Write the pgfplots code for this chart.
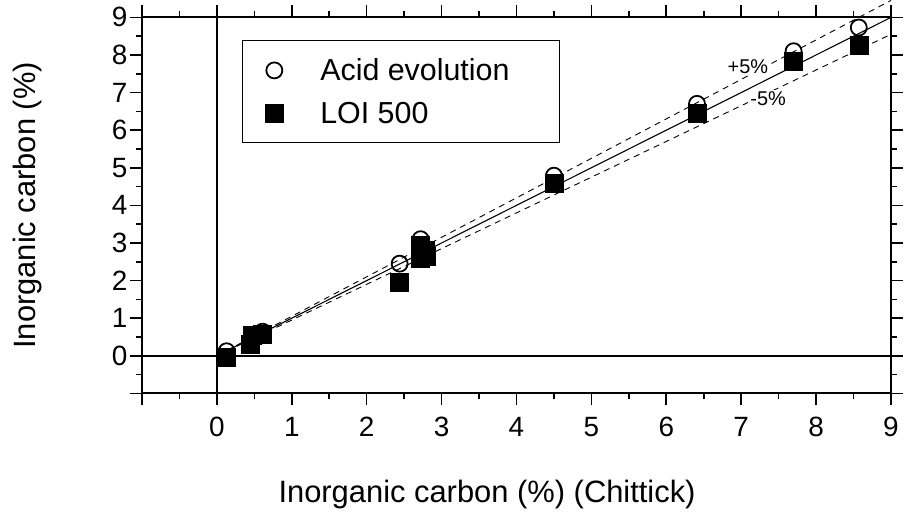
\documentclass[border=0pt]{standalone}
\usepackage{fontspec}
\setmainfont{Liberation Sans}
\usepackage{pgfplots}
\pgfplotsset{compat=1.18}

\begin{document}
\begin{tikzpicture}
\begin{axis}[
    scale only axis,
    width=749bp, height=376bp,
    xmin=-1, xmax=9, ymin=-1, ymax=9,
    xtick={-1,0,...,9}, xticklabels={,0,1,2,3,4,5,6,7,8,9},
    ytick={-1,0,...,9}, yticklabels={,0,1,2,3,4,5,6,7,8,9},
    minor tick num=1,
    tick align=outside,
    major tick length=12bp, minor tick length=6bp,
    every tick/.style={black, line width=1.6pt},
    axis line style={line width=2.2pt},
    tick label style={font=\fontsize{28}{32}\selectfont},
    /pgf/number format/assume math mode=true,
    xticklabel style={yshift=-8bp},
    yticklabel style={xshift=1bp},
    label style={font=\fontsize{31}{36}\selectfont},
    xlabel={Inorganic carbon (\%) (Chittick)},
    ylabel={Inorganic carbon (\%)},
    xlabel style={at={(rel axis cs:0.1776,-0.2686)}, anchor=west},
    ylabel style={at={(rel axis cs:-0.1535,0.5)}, anchor=center},
    clip=false,
    legend cell align=left,
    legend style={at={(rel axis cs:0.1335,0.939)}, anchor=north west,
        draw=black, line width=0.7pt, inner xsep=23bp, inner ysep=16bp,
        row sep=16bp, column sep=35bp, font=\fontsize{30.5}{34}\selectfont},
]
% zero lines
\addplot[black, line width=2pt, forget plot] coordinates {(0,-1) (0,9)};
\addplot[black, line width=2pt, forget plot] coordinates {(-1,0) (9,0)};
% 1:1 and +-5% lines
\addplot[black, line width=1.1pt, forget plot] coordinates {(0,0) (9,9)};
\addplot[black, line width=0.9pt, dash pattern=on 6bp off 5bp, forget plot] coordinates {(0,0) (9,9.45)};
\addplot[black, line width=0.9pt, dash pattern=on 6bp off 5bp, forget plot] coordinates {(0,0) (9,8.55)};
\node[font=\fontsize{20}{22}\selectfont, fill=white, inner sep=2bp] at (axis cs:7.09,7.70) {+5\%};
\node[font=\fontsize{20}{22}\selectfont, fill=white, inner sep=2bp] at (axis cs:7.36,6.84) {-5\%};
% Acid evolution
\addplot[only marks, mark=o, mark size=8bp, mark options={line width=1.8pt, fill=white}] coordinates {
    (0.13,0.12) (0.61,0.64) (2.44,2.45) (2.72,3.10) (2.75,2.85) (2.80,2.75)
    (4.50,4.79) (6.41,6.70) (7.70,8.10) (8.57,8.73)
};
\addlegendentry{\makebox[214bp][l]{Acid evolution}}
% LOI 500
\addplot[only marks, mark=square*, mark size=9bp, black] coordinates {
    (0.13,-0.03) (0.45,0.30) (0.47,0.55) (0.61,0.57) (2.44,1.95) (2.72,2.60)
    (2.72,2.95) (2.78,2.80) (2.80,2.65) (4.50,4.58) (6.41,6.45) (7.70,7.83) (8.57,8.26)
};
\addlegendentry{LOI 500}
% overall page extent
\path (axis cs:-2.896,-4.176) rectangle (axis cs:9.174,9.452);
\end{axis}
\end{tikzpicture}
\end{document}
